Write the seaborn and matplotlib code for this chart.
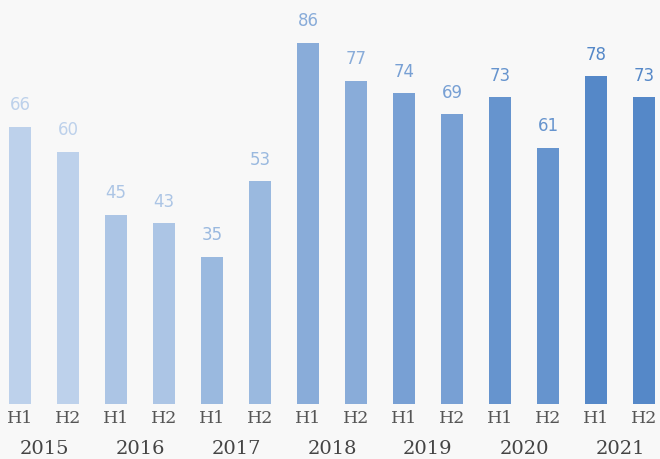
import pandas as pd
import matplotlib.pyplot as plt
import seaborn as sns

# half-year values
years = ["2015", "2016", "2017", "2018", "2019", "2020", "2021"]
halves = ["H1", "H2"]
values = [66, 60, 45, 43, 35, 53, 86, 77, 74, 69, 73, 61, 78, 73]

periods = [f"{y} {h}" for y in years for h in halves]
df = pd.DataFrame({"period": periods, "value": values})

# one shade per year, light to dark
year_colors = sns.blend_palette(["#bdd1eb", "#5588c8"], len(years))
colors = [c for c in year_colors for _ in halves]

bg = "#f8f8f8"
fig = plt.figure(figsize=(6.6, 4.59), dpi=100, facecolor=bg)
ax = fig.add_axes([0, 55 / 459, 1, 404 / 459])
ax.set_facecolor(bg)

sns.barplot(data=df, x="period", y="value", hue="period", palette=colors,
            legend=False, width=0.44, saturation=1, ax=ax)

ax.set_xlim(-20 / 48, 640 / 48)
ax.set_ylim(0, 404 / 4.2)
ax.axis("off")

for i, (p, v) in enumerate(zip(ax.patches, values)):
    x = p.get_x() + p.get_width() / 2
    ax.text(x, v + 3.0, str(v), ha="center", va="bottom", fontsize=12,
            color=colors[i], family="DejaVu Sans")
    ax.text(x, -1.5, halves[i % 2], ha="center", va="top", fontsize=12.5,
            color="#555555", family="DejaVu Serif")

for j, y in enumerate(years):
    ax.text(2 * j + 0.5, -8.6, y, ha="center", va="top", fontsize=14,
            color="#444444", family="DejaVu Serif")

plt.savefig("out.png", dpi=100, facecolor=bg)
plt.close()
